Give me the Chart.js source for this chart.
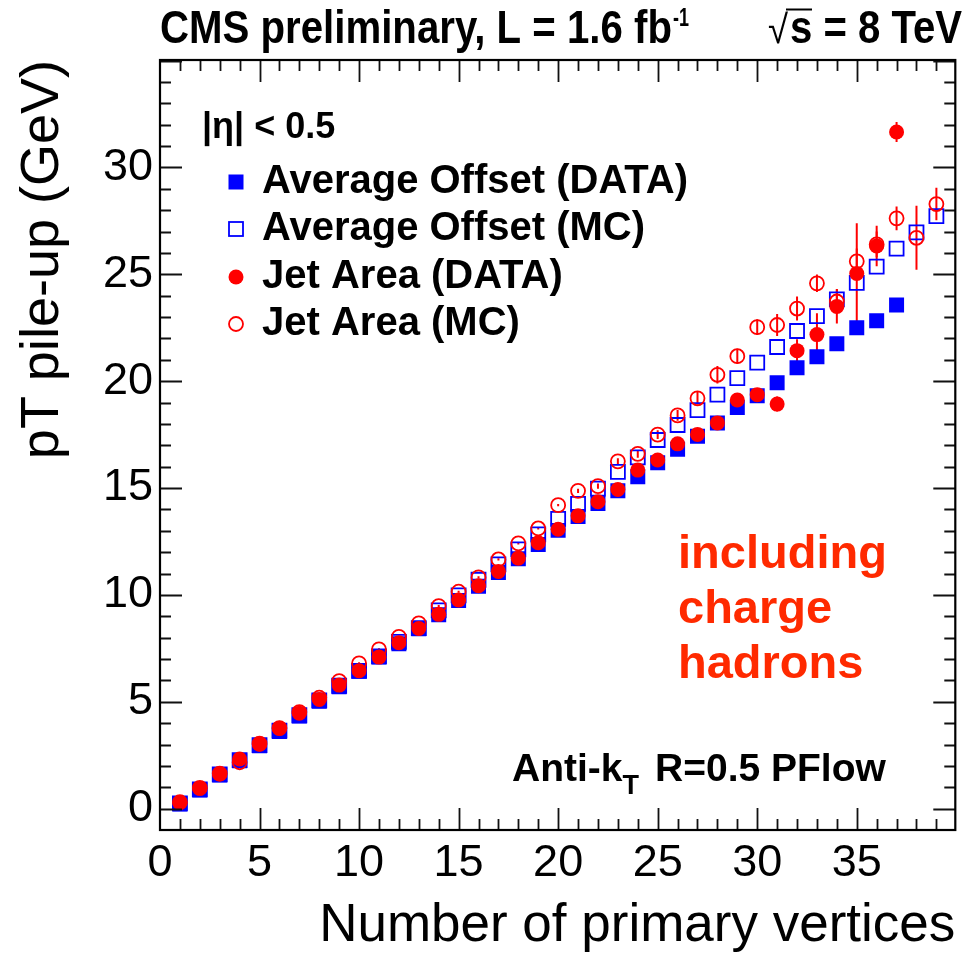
<!DOCTYPE html>
<html lang="en">
<head>
<meta charset="UTF-8">
<title>Pile-up offset vs number of primary vertices</title>
<script src="https://cdn.jsdelivr.net/npm/chart.js"></script>
<style>
  html, body { margin: 0; padding: 0; background: #fff; }
  #wrap { width: 967px; height: 953px; }
</style>
</head>
<body>
<div id="wrap"><canvas id="puChart" width="967" height="953"></canvas></div>
<script>
// number of primary vertices (x)
const nPV = [1, 2, 3, 4, 5, 6, 7, 8, 9, 10, 11, 12, 13, 14, 15, 16, 17, 18, 19, 20,
             21, 22, 23, 24, 25, 26, 27, 28, 29, 30, 31, 32, 33, 34, 35, 36, 37, 38, 39];

// pT pile-up (GeV)
const offsetData = [0.22, 0.87, 1.57, 2.24, 2.94, 3.61, 4.33, 5.03, 5.70, 6.43, 7.09, 7.71, 8.42, 9.07,
                    9.74, 10.40, 11.05, 11.69, 12.36, 13.02, 13.67, 14.28, 14.87, 15.53, 16.18, 16.82,
                    17.43, 18.05, 18.77, 19.32, 19.93, 20.63, 21.14, 21.75, 22.50, 22.83, 23.57];
const offsetMC = [0.25, 0.90, 1.60, 2.27, 2.97, 3.65, 4.37, 5.07, 5.75, 6.45, 7.12, 7.80, 8.45, 9.28,
                  9.98, 10.71, 11.43, 12.13, 12.83, 13.56, 14.26, 14.97, 15.76, 16.44, 17.25, 17.95,
                  18.65, 19.37, 20.14, 20.87, 21.60, 22.35, 23.05, 23.83, 24.60, 25.36, 26.20, 26.96, 27.72];
const jetAreaData = [0.29, 0.95, 1.62, 2.32, 3.01, 3.76, 4.46, 5.11, 5.78, 6.45, 7.09, 7.76, 8.43, 9.09,
                     9.76, 10.43, 11.10, 11.72, 12.44, 13.07, 13.70, 14.36, 14.93, 15.84, 16.31, 17.07,
                     17.51, 18.05, 19.12, 19.37, 18.93, 21.43, 22.18, 23.50, 25.04, 26.33, 31.66];
const jetAreaDataErr = [0.05, 0.05, 0.05, 0.05, 0.05, 0.05, 0.05, 0.05, 0.05, 0.05, 0.05, 0.05, 0.05, 0.05,
                        0.06, 0.06, 0.07, 0.07, 0.08, 0.08, 0.09, 0.10, 0.11, 0.12, 0.14, 0.16,
                        0.18, 0.20, 0.25, 0.28, 0.35, 0.53, 1.00, 0.80, 2.35, 0.95, 0.47];
const jetAreaMC = [0.30, 0.97, 1.64, 2.17, 3.04, 3.77, 4.52, 5.19, 5.97, 6.80, 7.45, 8.04, 8.67, 9.48,
                   10.15, 10.82, 11.66, 12.41, 13.11, 14.20, 14.87, 15.09, 16.25, 16.60, 17.50, 18.40,
                   19.20, 20.30, 21.17, 22.53, 22.63, 23.40, 24.58, 23.73, 25.61, 26.40, 27.62, 26.71, 28.29];
const jetAreaMCErr = [0.05, 0.05, 0.05, 0.05, 0.05, 0.05, 0.05, 0.05, 0.05, 0.05, 0.05, 0.05, 0.05, 0.05,
                      0.05, 0.05, 0.05, 0.05, 0.05, 0.05, 0.10, 0.12, 0.15, 0.18, 0.20, 0.25,
                      0.30, 0.41, 0.35, 0.37, 0.51, 0.56, 0.41, 0.58, 0.60, 0.60, 0.56, 1.50, 0.76];

const xTicks = [0, 5, 10, 15, 20, 25, 30, 35];
const yTicks = [0, 5, 10, 15, 20, 25, 30];

const legendLabels = ['Average Offset (DATA)', 'Average Offset (MC)', 'Jet Area (DATA)', 'Jet Area (MC)'];

const BLUE = '#0000ff';
const RED = '#ff0000';
const FONT = "'Liberation Sans', Arial, Helvetica, sans-serif";

Chart.defaults.font.family = FONT;
Chart.defaults.color = '#000';

function pts(values) {
    return values.map((v, i) => ({ x: nPV[i], y: v }));
}

// text helper; optional width squeezes the text horizontally
function txt(ctx, s, x, y, font, color, align, width) {
    ctx.save();
    ctx.font = font;
    ctx.fillStyle = color || '#000';
    ctx.textBaseline = 'alphabetic';
    let w = ctx.measureText(s).width;
    let sx = width ? width / w : 1;
    if (align === 'right') x -= w * sx;
    ctx.translate(x, y);
    ctx.scale(sx, 1);
    ctx.fillText(s, 0, 0);
    ctx.restore();
    return w * sx;
}

function marker(ctx, style, x, y) {
    ctx.save();
    if (style === 'fsq') { ctx.fillStyle = BLUE; ctx.fillRect(x - 7.5, y - 7.5, 15, 15); }
    if (style === 'osq') { ctx.strokeStyle = BLUE; ctx.lineWidth = 1.8; ctx.strokeRect(x - 7, y - 7, 14, 14); }
    if (style === 'fci') { ctx.fillStyle = RED; ctx.beginPath(); ctx.arc(x, y, 7.5, 0, Math.PI * 2); ctx.fill(); }
    if (style === 'oci') { ctx.strokeStyle = RED; ctx.lineWidth = 1.8; ctx.beginPath(); ctx.arc(x, y, 7, 0, Math.PI * 2); ctx.stroke(); }
    ctx.restore();
}

const errorBars = {
    id: 'errorBars',
    beforeDatasetsDraw(chart) {
        const { ctx, chartArea: a, scales: { x, y } } = chart;
        ctx.save();
        ctx.beginPath();
        ctx.rect(a.left, a.top, a.width, a.height);
        ctx.clip();
        ctx.strokeStyle = RED;
        ctx.lineWidth = 2;
        chart.data.datasets.forEach(ds => {
            if (!ds.errors) return;
            ds.data.forEach((p, i) => {
                const px = x.getPixelForValue(p.x);
                ctx.beginPath();
                ctx.moveTo(px, y.getPixelForValue(p.y - ds.errors[i]));
                ctx.lineTo(px, y.getPixelForValue(p.y + ds.errors[i]));
                ctx.stroke();
            });
        });
        ctx.restore();
    }
};

// ROOT style frame with ticks on all four sides
const frame = {
    id: 'frame',
    afterDraw(chart) {
        const { ctx, chartArea: a, scales: { x, y } } = chart;
        ctx.save();
        ctx.strokeStyle = '#111';
        ctx.lineWidth = 1.8;
        for (let v = 1; v < 40; v++) {
            const px = Math.round(x.getPixelForValue(v)) + 0.5;
            const len = v % 5 === 0 ? 22 : 11;
            ctx.beginPath();
            ctx.moveTo(px, a.bottom); ctx.lineTo(px, a.bottom - len);
            ctx.moveTo(px, a.top); ctx.lineTo(px, a.top + len);
            ctx.stroke();
        }
        for (let v = 0; v <= 35; v++) {
            const py = Math.round(y.getPixelForValue(v)) + 0.5;
            const len = v % 5 === 0 ? 22 : 11;
            ctx.beginPath();
            ctx.moveTo(a.left, py); ctx.lineTo(a.left + len, py);
            ctx.moveTo(a.right, py); ctx.lineTo(a.right - len, py);
            ctx.stroke();
        }
        ctx.lineWidth = 2.2;
        ctx.strokeStyle = '#000';
        ctx.strokeRect(a.left, a.top, a.right - a.left, a.bottom - a.top);
        ctx.restore();
    }
};

const labels = {
    id: 'labels',
    afterDraw(chart) {
        const ctx = chart.ctx;
        // header
        txt(ctx, 'CMS preliminary, L = 1.6 fb', 160, 43, 'bold 46px ' + FONT, '#000', 'left', 512);
        txt(ctx, '-1', 673, 26, 'bold 25px ' + FONT, '#000', 'left', 16);
        const w = txt(ctx, 's = 8 TeV', 962, 43, 'bold 46px ' + FONT, '#000', 'right', 172);
        const sx = 962 - w;
        txt(ctx, '\u221A', sx - 22, 43, '40px ' + FONT, '#000', 'left', 20);
        ctx.save();
        ctx.strokeStyle = '#000';
        ctx.lineWidth = 2;
        ctx.beginPath();
        ctx.moveTo(sx - 4, 9.5); ctx.lineTo(sx + 22, 9.5);
        ctx.stroke();
        ctx.restore();

        // legend
        txt(ctx, '|\u03B7| < 0.5', 202, 138, 'bold 36px ' + FONT, '#000', 'left');
        const styles = ['fsq', 'osq', 'fci', 'oci'];
        const base = [193, 240, 288, 335];
        legendLabels.forEach((s, i) => {
            marker(ctx, styles[i], 236, base[i] - 11);
            txt(ctx, s, 262, base[i], 'bold 40px ' + FONT, '#000', 'left');
        });

        // annotations
        const orange = '#ff2a00';
        txt(ctx, 'including', 678, 568, 'bold 47px ' + FONT, orange, 'left');
        txt(ctx, 'charge', 678, 623, 'bold 47px ' + FONT, orange, 'left');
        txt(ctx, 'hadrons', 678, 678, 'bold 47px ' + FONT, orange, 'left');

        let ax = 512;
        ax += txt(ctx, 'Anti-k', ax, 781, 'bold 39px ' + FONT, '#000', 'left');
        txt(ctx, 'T', ax, 794, 'bold 27px ' + FONT, '#000', 'left');
        txt(ctx, 'R=0.5 PFlow', 655, 781, 'bold 39px ' + FONT, '#000', 'left');
    }
};

new Chart(document.getElementById('puChart'), {
    type: 'scatter',
    data: {
        datasets: [
            {
                label: legendLabels[2], data: pts(jetAreaData), errors: jetAreaDataErr,
                pointStyle: 'circle', pointRadius: 7.5, backgroundColor: RED, borderWidth: 0, order: 0
            },
            {
                label: legendLabels[3], data: pts(jetAreaMC), errors: jetAreaMCErr,
                pointStyle: 'circle', pointRadius: 7, backgroundColor: 'rgba(0,0,0,0)',
                borderColor: RED, borderWidth: 1.8, order: 1
            },
            {
                label: legendLabels[0], data: pts(offsetData),
                pointStyle: 'rect', pointRadius: 10.6, backgroundColor: BLUE, borderWidth: 0, order: 2
            },
            {
                label: legendLabels[1], data: pts(offsetMC),
                pointStyle: 'rect', pointRadius: 9.9, backgroundColor: 'rgba(0,0,0,0)',
                borderColor: BLUE, borderWidth: 1.8, order: 3
            }
        ]
    },
    options: {
        responsive: false,
        devicePixelRatio: 1,
        animation: false,
        layout: { padding: { top: 60, right: 6, bottom: 0, left: 0 } },
        plugins: { legend: { display: false }, tooltip: { enabled: false } },
        elements: { point: { hoverRadius: 7 } },
        scales: {
            x: {
                type: 'linear', min: 0, max: 39.95,
                grid: { display: false, drawTicks: false },
                border: { display: false },
                afterBuildTicks: s => { s.ticks = xTicks.map(v => ({ value: v })); },
                afterFit: s => { s.height = 123; },
                ticks: { font: { size: 45 }, padding: 7, maxRotation: 0, autoSkip: false },
                title: {
                    display: true, text: 'Number of primary vertices', align: 'end',
                    font: { size: 53, lineHeight: 1 }, padding: { top: 0, bottom: 0 }
                }
            },
            y: {
                type: 'linear', min: -1, max: 35.03,
                grid: { display: false, drawTicks: false },
                border: { display: false },
                afterBuildTicks: s => { s.ticks = yTicks.map(v => ({ value: v })); },
                afterFit: s => { s.width = 160; },
                ticks: { font: { size: 45 }, padding: 7, autoSkip: false },
                title: {
                    display: true, text: 'pT pile-up (GeV)', align: 'end',
                    font: { size: 54, lineHeight: 1 }, padding: { top: 16, bottom: 0 }
                }
            }
        }
    },
    plugins: [errorBars, frame, labels]
});
</script>
</body>
</html>
